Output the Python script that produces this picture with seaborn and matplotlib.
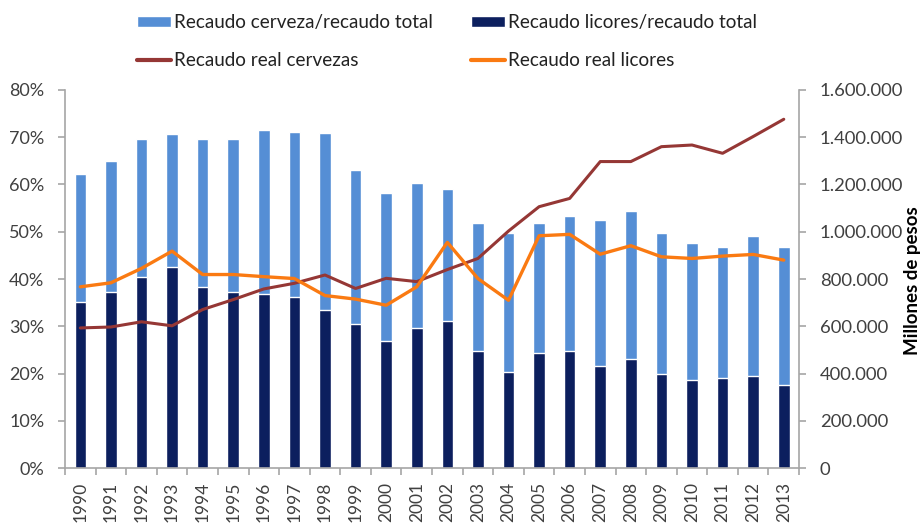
import numpy as np
import pandas as pd
import matplotlib
matplotlib.use("Agg")
import matplotlib.pyplot as plt
from matplotlib.ticker import FuncFormatter, FixedLocator, MultipleLocator
from matplotlib.patches import Patch
from matplotlib.lines import Line2D
import seaborn as sns

# Años
years = [str(y) for y in range(1990, 2014)]

# Participación en el recaudo total (%)
share_cerveza = [62.2, 65.0, 69.7, 70.7, 69.7, 69.7, 71.5, 71.1, 70.8, 63.0,
                 58.3, 60.4, 59.0, 51.9, 49.7, 51.9, 53.3, 52.5, 54.4, 49.7,
                 47.6, 46.8, 49.0, 46.8]
share_licores = [35.1, 37.3, 40.5, 42.6, 38.3, 37.3, 36.9, 36.2, 33.4, 30.4,
                 26.9, 29.7, 31.1, 24.7, 20.4, 24.4, 24.7, 21.5, 23.0, 19.8,
                 18.7, 19.0, 19.4, 17.6]

# Recaudo real (millones de pesos)
real_cervezas = [593000, 597000, 619000, 602000, 671000, 713000, 758000, 782000,
                 817000, 760000, 803000, 789000, 840000, 887000, 1003000, 1106000,
                 1141000, 1297000, 1297000, 1360000, 1367000, 1332000, 1403000, 1476000]
real_licores = [767000, 784000, 845000, 918000, 819000, 819000, 810000, 802000,
                730000, 715000, 689000, 767000, 955000, 802000, 710000, 983000,
                989000, 905000, 941000, 894000, 887000, 897000, 904000, 880000]

c_cerveza = "#558ED5"
c_licores = "#0C1F5E"
c_real_cer = "#953735"
c_real_lic = "#FA7A12"
axis_grey = "#A6A6A6"
text_col = "#404040"

df = pd.DataFrame({
    "year": years,
    "pos": np.arange(len(years)),
    "share_cerveza": share_cerveza,
    "share_licores": share_licores,
    "real_cervezas": real_cervezas,
    "real_licores": real_licores,
})

sns.set_style("white")
plt.rcParams["font.family"] = ["Lato", "DejaVu Sans"]

fig = plt.figure(figsize=(9.21, 5.23), dpi=100)
ax = fig.add_axes([0.0706, 0.105, 0.797, 0.723])

sns.barplot(data=df, x="year", y="share_cerveza", color=c_cerveza, width=0.38,
            saturation=1, ax=ax, order=years)
sns.barplot(data=df, x="year", y="share_licores", color=c_licores, width=0.38,
            saturation=1, ax=ax, order=years)

ax.set_ylim(0, 80)
ax.set_xlim(-0.5, len(years) - 0.5)
ax.yaxis.set_major_locator(MultipleLocator(10))
ax.yaxis.set_major_formatter(FuncFormatter(lambda v, p: f"{v:.0f}%"))
ax.set_xlabel("")
ax.set_ylabel("")

ax2 = ax.twinx()
sns.lineplot(data=df, x="pos", y="real_cervezas", color=c_real_cer, lw=2.2, ax=ax2)
sns.lineplot(data=df, x="pos", y="real_licores", color=c_real_lic, lw=2.4, ax=ax2)
ax2.set_ylim(0, 1600000)
ax2.yaxis.set_major_locator(MultipleLocator(200000))
ax2.yaxis.set_major_formatter(FuncFormatter(lambda v, p: f"{v:,.0f}".replace(",", ".")))
ax2.set_xlim(-0.5, len(years) - 0.5)
ax2.set_xlabel("")
ax2.set_ylabel("Millones de pesos", fontsize=13.5, fontweight="bold", color="black")
ax2.yaxis.label.set_verticalalignment("center")
ax2.yaxis.label.set_horizontalalignment("center")
ax2.yaxis.set_label_coords(1.154, 0.497)

# Ejes y marcas
for a in (ax, ax2):
    for s in a.spines.values():
        s.set_visible(False)
ax.spines["left"].set_visible(True)
ax.spines["bottom"].set_visible(True)
ax2.spines["right"].set_visible(True)
for s in (ax.spines["left"], ax.spines["bottom"], ax2.spines["right"]):
    s.set_color(axis_grey)
    s.set_linewidth(1.2)

ax.set_xticks(np.arange(len(years)))
ax.set_xticklabels(years, rotation=90, fontsize=12.5, color=text_col)
ax.xaxis.set_minor_locator(FixedLocator(np.arange(-0.5, len(years), 1.0)))
ax.tick_params(axis="x", which="major", length=0, pad=10)
ax.tick_params(axis="x", which="minor", length=5, color=axis_grey, width=1.2, bottom=True)
ax.tick_params(axis="y", length=5, color=axis_grey, width=1.2, left=True,
               labelsize=13, labelcolor=text_col, pad=10)
ax2.tick_params(axis="y", length=5, color=axis_grey, width=1.2, right=True,
                labelsize=13.3, labelcolor=text_col, pad=10)

# Leyenda superior (orden por columnas: primero la fila de barras, luego la de líneas)
handles = [
    Patch(facecolor=c_cerveza, label="Recaudo cerveza/recaudo total"),
    Line2D([], [], color=c_real_cer, lw=3, label="Recaudo real cervezas"),
    Patch(facecolor=c_licores, label="Recaudo licores/recaudo total"),
    Line2D([], [], color=c_real_lic, lw=3, label="Recaudo real licores"),
]
fig.legend(handles=handles, loc="upper left", bbox_to_anchor=(0.149, 0.973), ncol=2,
           frameon=False, fontsize=13.6, handlelength=1.8, handleheight=0.55,
           handletextpad=0.15, columnspacing=2.0, labelspacing=1.1,
           borderpad=0, borderaxespad=0, labelcolor="#222222")

fig.savefig("out.png", dpi=100)
